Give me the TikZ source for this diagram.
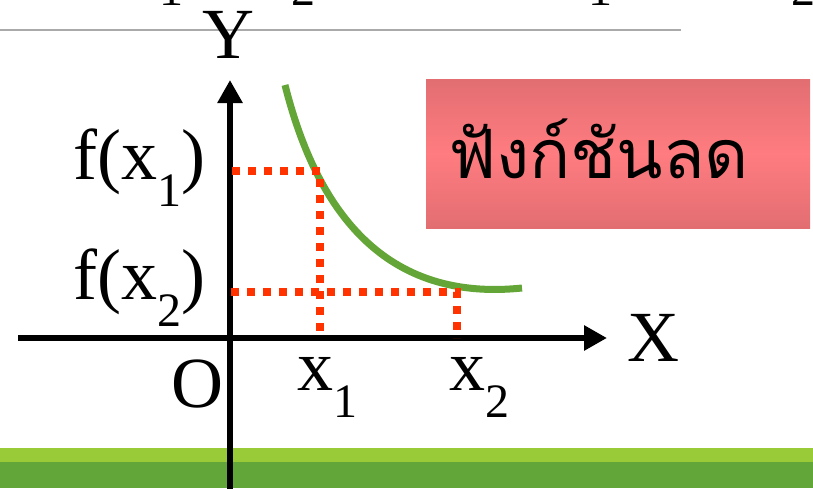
\documentclass[tikz,border=0pt]{standalone}
\usepackage{fontspec}
\setmainfont{Liberation Serif}
\newfontfamily\thaifont[Script=Thai]{Loma}
\usetikzlibrary{arrows.meta}
\definecolor{lgreen}{RGB}{153,203,57}
\definecolor{dgreen}{RGB}{98,165,56}
\definecolor{curvegreen}{RGB}{99,165,55}
\definecolor{dotred}{RGB}{255,51,0}
\definecolor{boxedge}{RGB}{226,110,114}
\definecolor{boxmid}{RGB}{255,124,128}
\definecolor{rulegray}{RGB}{170,170,170}
\newcommand\lowsub[1]{\raisebox{-27pt}{\fontsize{48}{48}\selectfont #1}}
\begin{document}
\begin{tikzpicture}[x=1pt,y=-1pt,
  big/.style={inner sep=0pt,font=\fontsize{72}{72}\selectfont},
  smalldigit/.style={inner sep=0pt,font=\fontsize{48}{48}\selectfont},
  axisline/.style={line width=6pt,-{Triangle[length=23pt,width=24pt]}},
  dotline/.style={dotred,line width=7.5pt,dash pattern=on 8pt off 8pt},
  curveline/.style={curvegreen,line width=7pt},
  thaibox/.style={draw=none,minimum width=384pt,minimum height=149pt,inner sep=0pt,
    top color=boxedge,bottom color=boxedge,middle color=boxmid},
]
\useasboundingbox (0,0) rectangle (813,488);
\clip (0,0) rectangle (813,488);
% bottom bars
\fill[lgreen] (0,448) rectangle (813,462);
\fill[dgreen] (0,462) rectangle (813,488);
% top rule
\coordinate (rl) at (0,30);
\coordinate (rr) at (681,30);
\draw[rulegray,line width=2pt] (rl) -- (rr);
% clipped subscripts of a line above
\node[smalldigit,anchor=base] (t1) at (171,5) {1};
\node[smalldigit,anchor=base] (t2) at (303,5) {2};
\node[smalldigit,anchor=base] (t3) at (600,5) {1};
\node[smalldigit,anchor=base] (t4) at (803,5) {2};
% box
\node[thaibox] (box) at (618,153.5) {};
\node[inner sep=0pt,anchor=base west,font=\thaifont\fontsize{68}{68}\selectfont] (boxlabel) at (448,178) {ฟังก์ชันลด};
% axes
\coordinate (xs) at (18,338);
\coordinate (xe) at (607,338);
\coordinate (ys) at (230,490);
\coordinate (ye) at (230,80);
\draw[axisline] (xs) -- (xe);
\draw[axisline] (ys) -- (ye);
% curve
\coordinate (ca) at (285,85);
\coordinate (cb) at (522,288);
\draw[curveline] (ca) .. controls (314,200) and (377,303) .. (cb);
% dotted guides
\coordinate (fa) at (232,171);
\coordinate (pa) at (320,171);
\coordinate (xa) at (320,338);
\coordinate (fb) at (231,292);
\coordinate (pb) at (457,292);
\coordinate (xb) at (457,338);
\draw[dotline] (fa) -- (pa) -- (xa);
\draw[dotline] (fb) -- (pb) -- (xb);
% labels
\node[big,anchor=base] (ylab) at (228,58) {Y};
\node[big,anchor=base west] (xlab) at (627,361) {X};
\node[big,anchor=base east] (olab) at (224,407) {O};
\node[big,anchor=base west] (x1lab) at (297,390) {x\lowsub{1}};
\node[big,anchor=base west] (x2lab) at (449,390) {x\lowsub{2}};
\node[big,anchor=base west] (f1lab) at (73,179) {f(x\lowsub{1})};
\node[big,anchor=base west] (f2lab) at (73,299) {f(x\lowsub{2})};
\end{tikzpicture}
\end{document}
